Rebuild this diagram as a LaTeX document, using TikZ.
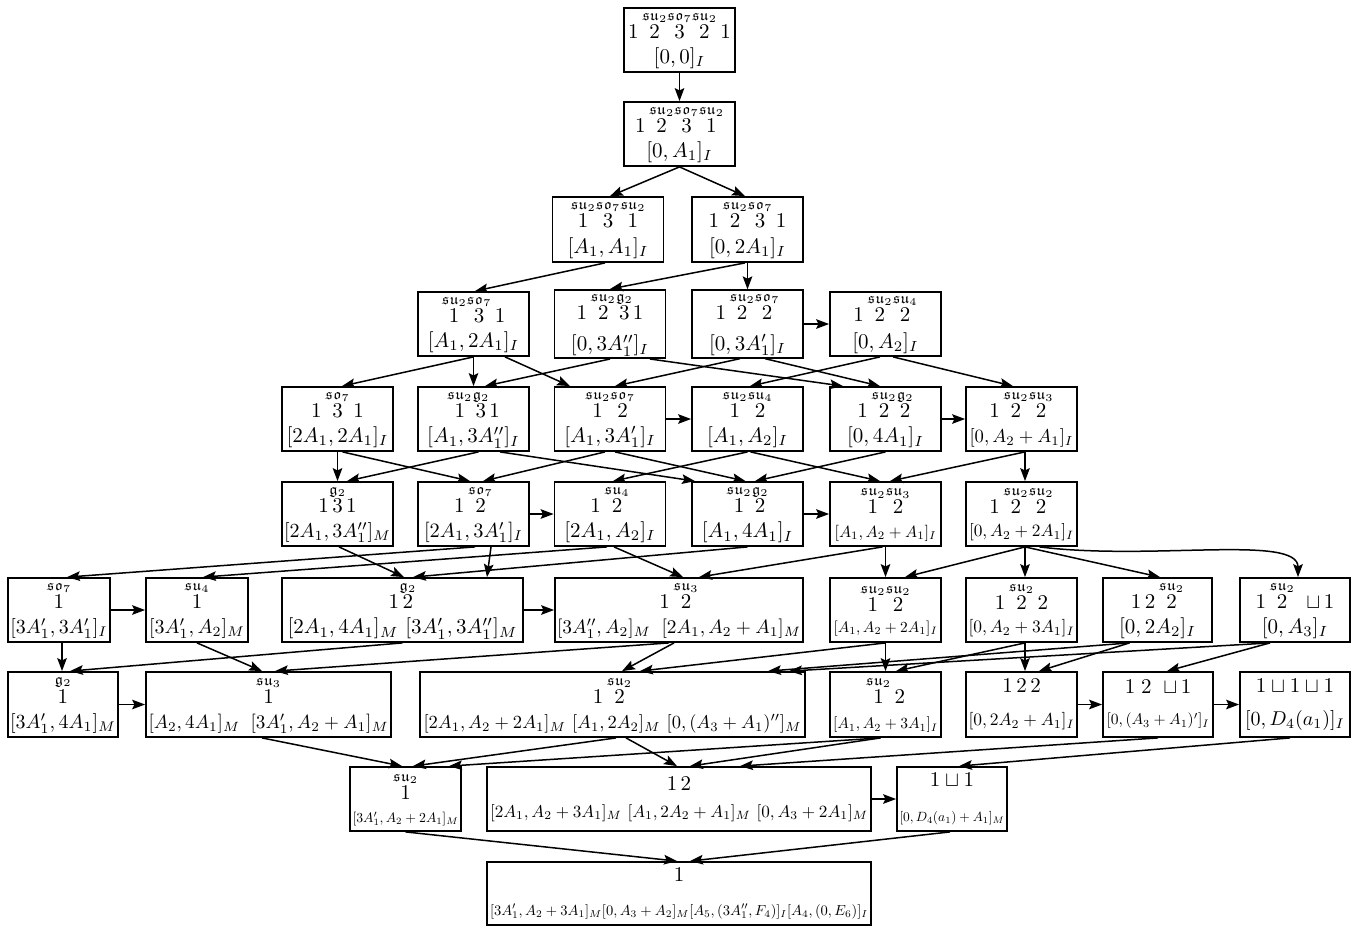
\RequirePackage{fix-cm}
\documentclass[tikz,border=0pt]{standalone}
\usepackage{amsmath,amssymb,graphicx}
\usetikzlibrary{arrows.meta,calc}
\newcommand{\OvA}[3]{\overset{\mathfrak{#1}_{#2}}{#3}}
\newcommand{\FsZ}[1]{\fontsize{#1}{#1}\selectfont}
\newcommand{\RzW}[2]{\resizebox{#1}{!}{$#2$}}
\newcommand{\edgeSN}[4]{\draw[arr] ($(#1.south)+(#2,0)$) -- ($(#3.north)+(#4,0)$);}
\newcommand{\edgeH}[2]{\draw[arr] (#1.east) -- (#2.west);}
\tikzset{
  box/.style={draw, line width=0.9pt, align=center, inner xsep=0.5pt, inner ysep=1pt,
              minimum width=55.5pt, minimum height=32pt, font=\fontsize{10.5}{12.6}\selectfont},
  arr/.style={line width=0.75pt, -{Stealth[length=6.5pt,width=4.8pt,inset=1.2pt]}},
}
\begin{document}
\begin{tikzpicture}[x=0.5pt,y=-0.5pt]
\useasboundingbox (0,0) rectangle (1359,926);
% row 1-3
\node[box] (n1) at (679.5,40) {$1\,\OvA{su}{2}{2}\OvA{so}{7}{3}\OvA{su}{2}{2}\,1$\\$[0,0]_I$};
\node[box] (n2) at (679.5,134) {$1\,\OvA{su}{2}{2}\OvA{so}{7}{3}\OvA{su}{2}{1}$\\$[0,A_1]_I$};
\node[box,minimum height=32.5pt] (n3a) at (608,229.5) {$\OvA{su}{2}{1}\OvA{so}{7}{3}\OvA{su}{2}{1}$\\$[A_1,A_1]_I$};
\node[box,minimum height=32.5pt] (n3b) at (747.5,229.5) {$1\,\OvA{su}{2}{2}\OvA{so}{7}{3}\,1$\\$[0,2A_1]_I$};
% row 4
\node[box] (n4a) at (473.5,324) {$\OvA{su}{2}{1}\OvA{so}{7}{3}\,1$\\$[A_1,2A_1]_I$};
\node[box] (n4b) at (610,324) {$1\,\OvA{su}{2}{2}\OvA{g}{2}{3}1$\\[3pt]$[0,3A_1'']_I$};
\node[box] (n4c) at (747.5,324) {$1\,\OvA{su}{2}{2}\OvA{so}{7}{2}$\\[3pt]$[0,3A_1']_I$};
\node[box] (n4d) at (885.5,324) {$1\,\OvA{su}{2}{2}\OvA{su}{4}{2}$\\[1pt]$[0,A_2]_I$};
% row 5
\node[box] (n5a) at (337.5,419) {$1\,\OvA{so}{7}{3}\,1$\\$[2A_1,2A_1]_I$};
\node[box] (n5b) at (473.5,419) {$\OvA{su}{2}{1}\OvA{g}{2}{3}1$\\$[A_1,3A_1'']_I$};
\node[box] (n5c) at (610,419) {$\OvA{su}{2}{1}\OvA{so}{7}{2}$\\$[A_1,3A_1']_I$};
\node[box] (n5d) at (747.5,419) {$\OvA{su}{2}{1}\OvA{su}{4}{2}$\\$[A_1,A_2]_I$};
\node[box] (n5e) at (885.5,419) {$1\,\OvA{su}{2}{2}\OvA{g}{2}{2}$\\$[0,4A_1]_I$};
\node[box] (n5f) at (1021.5,419) {$1\,\OvA{su}{2}{2}\OvA{su}{3}{2}$\\\RzW{52pt}{[0,A_2+A_1]_I}};
% row 6
\node[box] (n6a) at (337.5,514) {$1\OvA{g}{2}{3}1$\\{\FsZ{10}$[2A_1,3A_1'']_M$}};
\node[box] (n6b) at (473.5,514) {$1\,\OvA{so}{7}{2}$\\{\FsZ{10.2}$[2A_1,3A_1']_I$}};
\node[box] (n6c) at (610,514) {$1\,\OvA{su}{4}{2}$\\$[2A_1,A_2]_I$};
\node[box] (n6d) at (747.5,514) {$\OvA{su}{2}{1}\OvA{g}{2}{2}$\\$[A_1,4A_1]_I$};
\node[box] (n6e) at (885.5,514) {$\OvA{su}{2}{1}\OvA{su}{3}{2}$\\[-1pt]\RzW{51pt}{[A_1,A_2+A_1]_I}};
\node[box] (n6f) at (1021.5,514) {$1\,\OvA{su}{2}{2}\OvA{su}{2}{2}$\\[-1pt]\RzW{52.5pt}{[0,A_2+2A_1]_I}};
% row 7
\node[box,minimum width=51pt] (n7a) at (59,610) {$\OvA{so}{7}{1}$\\{\FsZ{10}$[3A_1',3A_1']_I$}};
\node[box,minimum width=51pt] (n7b) at (197,610) {$\OvA{su}{4}{1}$\\{\FsZ{10}$[3A_1',A_2]_M$}};
\node[box,minimum width=120.5pt] (n7c) at (402.5,610) {$1\OvA{g}{2}{2}$\\$[2A_1,4A_1]_M\ [3A_1',3A_1'']_M$};
\node[box,minimum width=124pt] (n7d) at (679,610) {$1\,\OvA{su}{3}{2}$\\\RzW{122pt}{[3A_1'',A_2]_M\;\;[2A_1,A_2+A_1]_M}};
\node[box] (n7e) at (885.5,610) {$\OvA{su}{2}{1}\OvA{su}{2}{2}$\\[-2pt]\RzW{52pt}{[A_1,A_2+2A_1]_I}};
\node[box] (n7f) at (1021.5,610) {$1\,\OvA{su}{2}{2}\,2$\\[-1pt]\RzW{53pt}{[0,A_2+3A_1]_I}};
\node[box,minimum width=54.5pt] (n7g) at (1157.5,610) {$1\,2\,\OvA{su}{2}{2}$\\$[0,2A_2]_I$};
\node[box,minimum width=55pt] (n7h) at (1295,610) {$1\,\OvA{su}{2}{2}\;\;{\sqcup}\,1$\\$[0,A_3]_I$};
% row 8
\node[box,minimum width=55pt,minimum height=32.5pt] (n8a) at (63,704.5) {$\OvA{g}{2}{1}$\\{\FsZ{10}$[3A_1',4A_1]_M$}};
\node[box,minimum width=122.5pt,minimum height=32.5pt] (n8b) at (268.5,704.5) {$\OvA{su}{3}{1}$\\\RzW{120pt}{[A_2,4A_1]_M\;\;[3A_1',A_2+A_1]_M}};
\node[box,minimum width=192.5pt,minimum height=32.5pt] (n8c) at (612.5,704.5) {$1\,\OvA{su}{2}{2}$\\[0pt]\RzW{189pt}{[2A_1,A_2+2A_1]_M\ [A_1,2A_2]_M\ [0,(A_3+A_1)'']_M}};
\node[box,minimum height=32.5pt] (n8d) at (885.5,704.5) {$\OvA{su}{2}{1}\,2$\\[0pt]\RzW{52.5pt}{[A_1,A_2+3A_1]_I}};
\node[box,minimum height=32.5pt] (n8e) at (1021.5,704.5) {$1\,2\,2$\\[4pt]\RzW{53pt}{[0,2A_2+A_1]_I}};
\node[box,minimum width=55pt,minimum height=32.5pt] (n8f) at (1158,704.5) {$1\;2\;\;{\sqcup}\,1$\\[3pt]\RzW{51.5pt}{[0,(A_3+A_1)']_I}};
\node[box,minimum width=55pt,minimum height=32.5pt] (n8g) at (1295,704.5) {$1\sqcup1\sqcup1$\\[4pt]{\FsZ{10}$[0,D_4(a_1)]_I$}};
% row 9
\node[box] (n9a) at (405.5,799) {$\OvA{su}{2}{1}$\\[-1pt]\RzW{53pt}{[3A_1',A_2+2A_1]_M}};
\node[box,minimum width=192pt] (n9b) at (679,799) {$1\,2$\\[1pt]\RzW{189pt}{[2A_1,A_2+3A_1]_M\ [A_1,2A_2+A_1]_M\ [0,A_3+2A_1]_M}};
\node[box,minimum width=55pt] (n9c) at (952,799) {$1\sqcup1$\\[5pt]\RzW{52.5pt}{[0,D_4(a_1)+A_1]_M}};
% row 10
\node[box,minimum width=192pt,minimum height=31.5pt] (n10) at (679,893.5) {$1$\\[4pt]\RzW{189pt}{[3A_1',A_2+3A_1]_M[0,A_3+A_2]_M[A_5,(3A_1'',F_4)]_I[A_4,(0,E_6)]_I}};
% edges rows 1-4
\edgeSN{n1}{0}{n2}{0}
\edgeSN{n2}{0}{n3a}{2}
\edgeSN{n2}{0}{n3b}{-2.5}
\edgeSN{n3a}{-3}{n4a}{1.5}
\edgeSN{n3b}{-2.5}{n4b}{0}
\edgeSN{n3b}{0}{n4c}{0}
\edgeH{n4c}{n4d}
% rows 4-5
\edgeSN{n4a}{0}{n5a}{4.5}
\edgeSN{n4a}{0}{n5b}{0}
\edgeSN{n4a}{31.5}{n5c}{-40}
\edgeSN{n4b}{0}{n5b}{11.5}
\edgeSN{n4b}{40}{n5e}{-42.5}
\edgeSN{n4c}{-7.5}{n5c}{5}
\edgeSN{n4c}{17.5}{n5e}{-5.5}
\edgeSN{n4d}{-5.5}{n5d}{2.5}
\edgeSN{n4d}{7.5}{n5f}{-8.5}
\edgeH{n5c}{n5d}
\edgeH{n5e}{n5f}
% rows 5-6
\edgeSN{n5a}{0}{n6a}{0}
\edgeSN{n5a}{5}{n6b}{-3.5}
\edgeSN{n5b}{5}{n6a}{9.5}
\edgeSN{n5b}{26.5}{n6d}{-52.5}
\edgeSN{n5c}{-5}{n6b}{9.5}
\edgeSN{n5c}{5}{n6d}{-2}
\edgeSN{n5d}{0}{n6c}{3}
\edgeSN{n5d}{3}{n6e}{-5.5}
\edgeSN{n5e}{0}{n6d}{7.5}
\edgeSN{n5f}{3.5}{n6e}{4.5}
\edgeSN{n5f}{3.5}{n6f}{3.5}
\edgeH{n6b}{n6c}
\edgeH{n6d}{n6e}
% rows 6-7
\edgeSN{n6a}{1.5}{n7c}{1.5}
\edgeSN{n6b}{1.5}{n7a}{8}
\edgeSN{n6b}{17.5}{n7c}{84.5}
\edgeSN{n6c}{-3}{n7b}{6}
\edgeSN{n6c}{4}{n7d}{4}
\edgeSN{n6d}{0}{n7c}{10.5}
\edgeSN{n6e}{-3}{n7d}{20}
\edgeSN{n6e}{0}{n7e}{0}
\edgeSN{n6f}{3.5}{n7e}{19.5}
\edgeSN{n6f}{3.5}{n7f}{3.5}
\edgeSN{n6f}{3.5}{n7g}{2.5}
\draw[arr] ($(n6f.south)+(18,0)$) .. controls ($(n6f.south)+(130,14)$) and ($(n7h.north)+(3,-43)$) .. ($(n7h.north)+(3,0)$);
\edgeH{n7a}{n7b}
\edgeH{n7c}{n7d}
% rows 7-8
\edgeSN{n7a}{3}{n8a}{-1}
\edgeSN{n7b}{0}{n8b}{-6.5}
\edgeSN{n7c}{0}{n8a}{7}
\edgeSN{n7d}{-10}{n8b}{6.5}
\edgeSN{n7d}{-5}{n8c}{9.5}
\edgeSN{n7e}{0}{n8c}{27.5}
\edgeSN{n7e}{0}{n8d}{0}
\edgeSN{n7f}{3.5}{n8d}{10.5}
\edgeSN{n7f}{3.5}{n8e}{3.5}
\edgeSN{n7g}{-28}{n8c}{155.5}
\edgeSN{n7g}{-28}{n8e}{17.5}
\edgeSN{n7h}{-25}{n8c}{176.5}
\edgeSN{n7h}{-25}{n8f}{9}
\edgeH{n8a}{n8b}
\edgeH{n8e}{n8f}
\edgeH{n8f}{n8g}
% rows 8-9
\edgeSN{n8b}{-6.5}{n9a}{-3.5}
\edgeSN{n8c}{3.5}{n9a}{7.5}
\edgeSN{n8c}{13.5}{n9b}{-2}
\edgeSN{n8d}{-5}{n9a}{43.5}
\edgeSN{n8d}{-5}{n9b}{11}
\edgeSN{n8f}{0}{n9b}{61}
\edgeSN{n8g}{-5}{n9c}{7}
\edgeH{n9b}{n9c}
% rows 9-10
\edgeSN{n9a}{0}{n10}{-2}
\edgeSN{n9c}{-2}{n10}{11}
\end{tikzpicture}
\end{document}
